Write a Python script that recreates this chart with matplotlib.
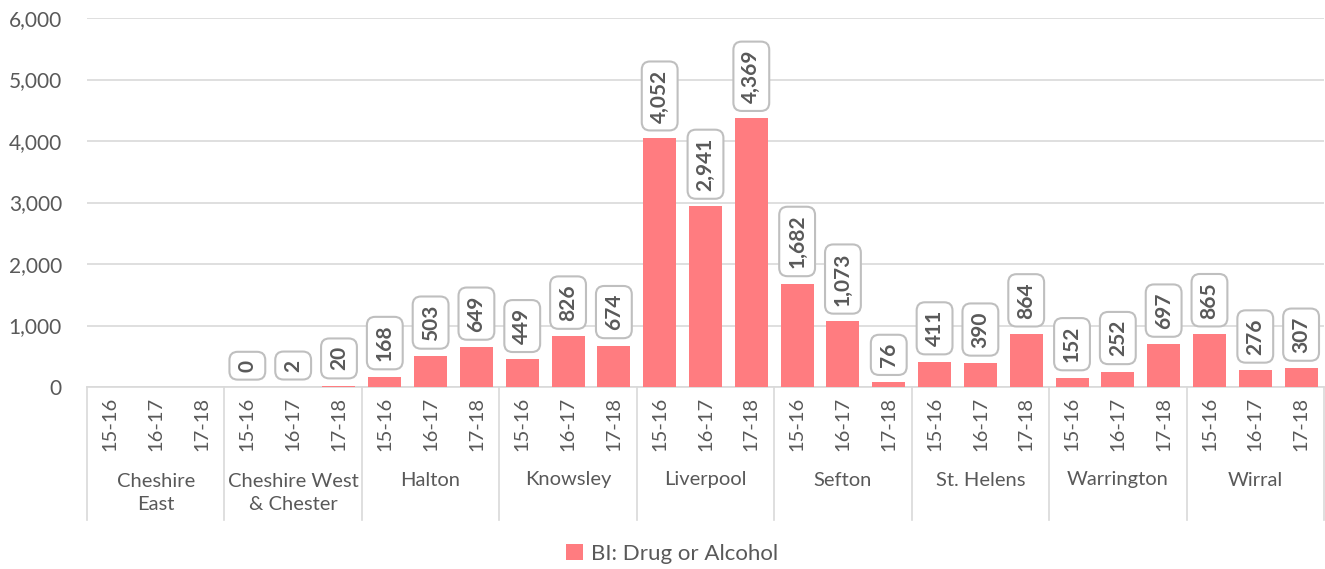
import matplotlib
matplotlib.use("Agg")
import matplotlib.pyplot as plt
import matplotlib.transforms as mtransforms
import numpy as np

areas = ["Cheshire\nEast", "Cheshire West\n& Chester", "Halton", "Knowsley", "Liverpool",
         "Sefton", "St. Helens", "Warrington", "Wirral"]
years = ["15-16", "16-17", "17-18"]
values = [np.nan, np.nan, np.nan,
          0, 2, 20,
          168, 503, 649,
          449, 826, 674,
          4052, 2941, 4369,
          1682, 1073, 76,
          411, 390, 864,
          152, 252, 697,
          865, 276, 307]
series_name = "BI: Drug or Alcohol"

plt.rcParams['font.family'] = ['Lato', 'DejaVu Sans']
TXT = "#595959"
GRID = "#D9D9D9"
BAR = "#FF7C80"

fig = plt.figure(figsize=(13.25, 5.69), dpi=100)
ax = fig.add_axes([87/1325, 1-387/569, (1324-87)/1325, (387-18)/569])

n = len(values)
x = np.arange(n)
vals = np.array(values, dtype=float)
ax.bar(x, np.nan_to_num(vals), width=0.72, color=BAR, zorder=3, label=series_name)

ax.set_xlim(-0.5, n - 0.5)
ax.set_ylim(0, 6000)
ax.set_yticks(np.arange(0, 6001, 1000))
ax.set_yticklabels([f"{v:,}" for v in range(0, 6001, 1000)], fontsize=15, color=TXT)
ax.yaxis.grid(True, color=GRID, linewidth=1.2, zorder=0)
ax.tick_params(axis='y', length=0, pad=18)
for s in ["top", "right", "left"]:
    ax.spines[s].set_visible(False)
ax.spines["bottom"].set_color(GRID)
ax.spines["bottom"].set_linewidth(1.2)

ax.set_xticks(x)
ax.set_xticklabels(years * len(areas), rotation=90, fontsize=14.5, color=TXT)
ax.tick_params(axis='x', length=0, pad=7)

# data labels
for xi, v in zip(x, vals):
    if np.isnan(v):
        continue
    ax.annotate(f"{int(v):,}", (xi, v), xytext=(0, 11), textcoords="offset points",
                rotation=90, ha="center", va="bottom", fontsize=15, fontweight="bold",
                color=TXT, zorder=5,
                bbox=dict(boxstyle="round,pad=0.38,rounding_size=0.4", fc="white",
                          ec="#BFBFBF", lw=1.5))

# group separators and labels
trans = mtransforms.blended_transform_factory(ax.transData, ax.transAxes)
ybot = -(520 - 387) / 369
for g in range(len(areas) + 1):
    xb = g * 3 - 0.5
    ax.plot([xb, xb], [0, ybot], transform=trans, color=GRID, lw=1.2, clip_on=False)
for g, name in enumerate(areas):
    ax.text(g * 3 + 1, -(480 - 387) / 369 if "\n" not in name else -(493 - 387) / 369,
            name, transform=trans, ha="center", va="center", fontsize=14.5, color=TXT,
            linespacing=1.45)

fig.legend(loc="center", bbox_to_anchor=(672/1325, 1 - 554/569), frameon=False,
           fontsize=16, labelcolor=TXT, handlelength=0.75, handleheight=0.75,
           handletextpad=0.35)

fig.savefig("out.png", dpi=100)
